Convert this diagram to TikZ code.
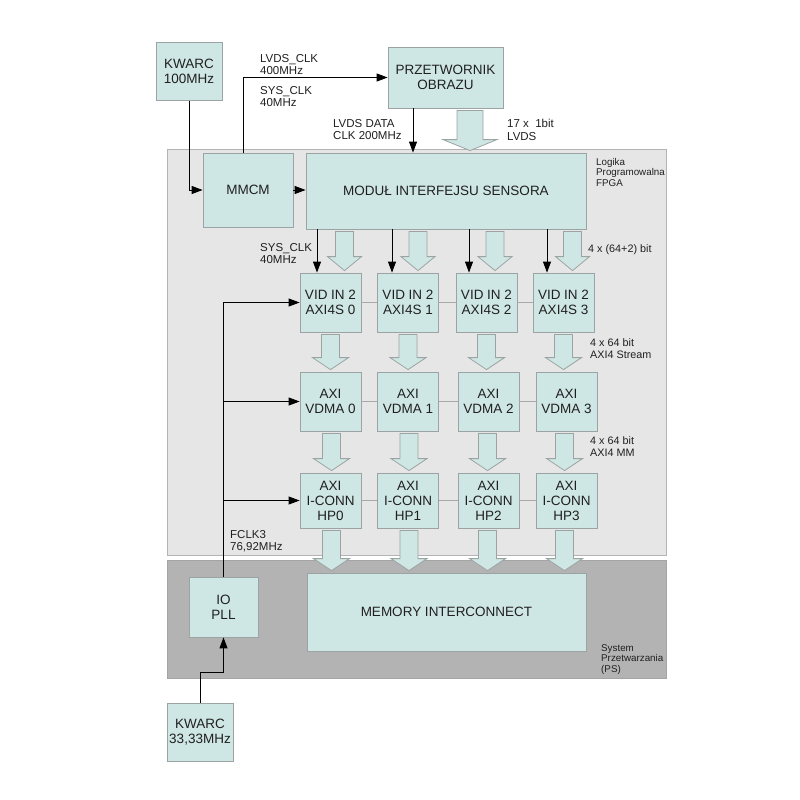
\documentclass[tikz,border=0pt]{standalone}
\usepackage{fontspec}
\setmainfont{Liberation Sans}
\usetikzlibrary{arrows.meta,calc}
\definecolor{blockfill}{HTML}{CFE7E4}
\definecolor{blockline}{HTML}{9CA4A3}
\definecolor{plfill}{HTML}{E6E6E6}
\definecolor{plline}{HTML}{B4B4B4}
\definecolor{psfill}{HTML}{B3B3B3}
\definecolor{psline}{HTML}{A4A4A4}
\definecolor{linkcolor}{HTML}{A8A8A8}
\definecolor{labelcolor}{HTML}{202020}

\tikzset{
  block/.style={draw=blockline, fill=blockfill, line width=0.8pt, inner sep=0pt,
    align=center, text=labelcolor, font=\fontsize{13.5}{15}\selectfont},
  clk/.style={draw=black, line width=0.9pt, -{Triangle[length=11pt,width=8pt]}},
  link/.style={draw=linkcolor, line width=0.8pt},
  fatarr/.style={draw=blockline, fill=blockfill, line width=0.8pt, line join=miter},
  lbl/.style={anchor=north west, inner sep=0pt, align=left, text=labelcolor,
    font=\fontsize{11.5}{12.5}\selectfont},
  small/.style={anchor=north west, inner sep=0pt, align=left, text=labelcolor,
    font=\fontsize{9.8}{10.5}\selectfont}
}

% fat data arrow: from, to, x reference, x offset, shaft half, head half, head length
\newcommand{\fatarrow}[7]{%
  \draw[fatarr] let \p1=([yshift=-2pt]#1.south), \p2=([yshift=2pt]#2.north),
    \p3=([xshift=#4pt]#3.center) in
    (\x3-#5pt,\y1) -- (\x3+#5pt,\y1) -- (\x3+#5pt,\y2+#7pt) -- (\x3+#6pt,\y2+#7pt)
    -- (\x3,\y2) -- (\x3-#6pt,\y2+#7pt) -- (\x3-#5pt,\y2+#7pt) -- cycle;
}

\begin{document}
\begin{tikzpicture}[x=1pt,y=-1pt]
  \fill[white] (0,0) rectangle (800,800);
  \useasboundingbox (0,0) rectangle (800,800);

  % === REGIONS ===
  \draw[plline, fill=plfill, line width=0.8pt] (167,149) rectangle (666,555);
  \draw[psline, fill=psfill, line width=0.8pt] (167,560) rectangle (666,678);
  \node[small] (plname) at (596,158) {Logika\\Programowalna\\FPGA};
  \node[small] (psname) at (601,644) {System\\Przetwarzania\\(PS)};

  % === BLOCKS ===
  \node[block, minimum width=66pt, minimum height=58pt] (kw100) at (189,71.5) {KWARC\\100MHz};
  \node[block, minimum width=115pt, minimum height=61pt] (przetw) at (445.5,77.5) {PRZETWORNIK\\OBRAZU};
  \node[block, minimum width=90pt, minimum height=74pt] (mmcm) at (248,190) {MMCM};
  \node[block, minimum width=280pt, minimum height=76pt] (modul) at (446,191) {MODUŁ INTERFEJSU SENSORA};

  \foreach \i/\x/\xx in {0/330.5/330.5, 1/408/408, 2/486.5/488.5, 3/563.5/566.5} {
    \node[block, minimum width=61pt, minimum height=59pt] (vid\i) at (\x,302.5) {VID IN 2\\AXI4S \i};
    \node[block, minimum width=61pt, minimum height=59pt] (vdma\i) at (\xx,401.5) {AXI\\VDMA \i};
    \node[block, minimum width=61pt, minimum height=55pt] (hp\i) at (\xx,500.5) {AXI\\I-CONN\\HP\i};
  }

  \node[block, minimum width=279pt, minimum height=78pt] (mem) at (446.5,612) {MEMORY INTERCONNECT};
  \node[block, minimum width=69pt, minimum height=60pt] (iopll) at (223.5,607) {IO\\PLL};
  \node[block, minimum width=66pt, minimum height=58pt] (kw33) at (200,732) {KWARC\\33,33MHz};

  % links between neighbouring blocks
  \foreach \a/\b in {0/1, 1/2, 2/3} {
    \draw[link] (vid\a.east) -- (vid\b.west);
    \draw[link] (vdma\a.east) -- (vdma\b.west);
    \draw[link] (hp\a.east) -- (hp\b.west);
  }

  % === CLOCKS ===
  \draw[clk] (kw100.south) |- (mmcm.west);
  \draw[clk] ([xshift=-5pt]mmcm.north) |- (przetw.west);
  \draw[clk] (mmcm.east) -- (mmcm.east -| modul.west);
  \draw[clk] ([xshift=-32.5pt]przetw.south) -- ([xshift=-32.5pt]przetw.south |- modul.north);
  \foreach \i/\ck in {0/-13.5, 1/-16, 2/-17.5, 3/-16.5} {
    \draw[clk] ([xshift=\ck pt]vid\i.north |- modul.south) -- ([xshift=\ck pt]vid\i.north);
  }
  \draw[clk] (kw33.north) -- ++(0,-30) -| (iopll.south);
  \draw[clk] (iopll.north) |- (vid0.west);
  \draw[clk] (iopll.north |- vdma0.west) -- (vdma0.west);
  \draw[clk] (iopll.north |- hp0.west) -- (hp0.west);

  % === DATA ===
  \fatarrow{przetw}{modul}{przetw}{24.5}{13}{27}{11}
  \foreach \i/\fa in {0/14, 1/10, 2/8.5, 3/9} {
    \fatarrow{modul}{vid\i}{vid\i}{\fa}{9}{17}{14}
    \fatarrow{vid\i}{vdma\i}{vid\i}{0}{9}{18}{12}
    \fatarrow{vdma\i}{hp\i}{vid\i}{1}{9}{18}{12}
    \fatarrow{hp\i}{mem}{vid\i}{1}{9}{18}{12}
  }

  % === LABELS ===
  \node[lbl] (lvdsclk) at (260,54) {LVDS\_CLK\\400MHz};
  \node[lbl] (sysclka) at (260,86) {SYS\_CLK\\40MHz};
  \node[lbl] (lvdsdata) at (333,119) {LVDS DATA\\CLK 200MHz};
  \node[lbl] (lvdsbits) at (507,119) {17 x~ 1bit\\LVDS};
  \node[lbl] (sysclkb) at (260,243) {SYS\_CLK\\40MHz};
  \node[lbl, font=\fontsize{10.8}{12}\selectfont] (vidbits) at (588,244) {4 x (64+2) bit};
  \node[lbl, font=\fontsize{10.8}{12}\selectfont] (streambits) at (590,338) {4 x 64 bit\\AXI4 Stream};
  \node[lbl, font=\fontsize{10.8}{12}\selectfont] (mmbits) at (590,436) {4 x 64 bit\\AXI4 MM};
  \node[lbl] (fclk) at (230,530) {FCLK3\\76,92MHz};
\end{tikzpicture}
\end{document}
